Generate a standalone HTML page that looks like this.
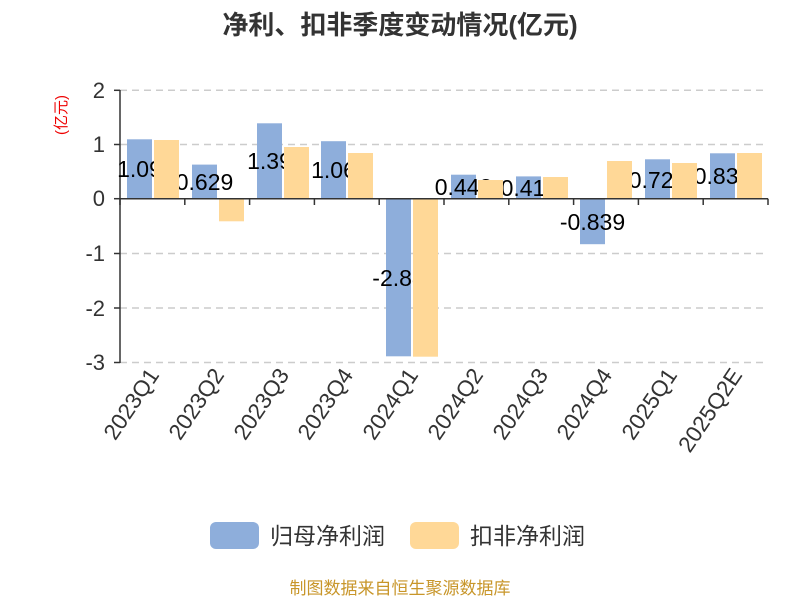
<!DOCTYPE html>
<html><head><meta charset="utf-8"><style>
body{margin:0;background:#fff;}
svg{display:block;font-family:"Liberation Sans","Noto Sans CJK SC",sans-serif;}
</style></head><body>
<svg width="800" height="600" viewBox="0 0 800 600">
<text x="400" y="34" text-anchor="middle" font-size="26" font-weight="bold" fill="#333">净利、扣非季度变动情况(亿元)</text>
<text transform="translate(66,115) rotate(-90)" text-anchor="middle" font-size="15" fill="#e00">(亿元)</text>
<g stroke="#ccc" stroke-width="1.5" stroke-dasharray="7,5">
<line x1="120" y1="90.3" x2="768" y2="90.3"/>
<line x1="120" y1="144.5" x2="768" y2="144.5"/>
<line x1="120" y1="253.5" x2="768" y2="253.5"/>
<line x1="120" y1="308" x2="768" y2="308"/>
<line x1="120" y1="362.5" x2="768" y2="362.5"/>
</g>
<g font-size="22" fill="#333" text-anchor="end">
<text x="105" y="98">2</text><text x="105" y="152">1</text><text x="105" y="206">0</text>
<text x="105" y="261">-1</text><text x="105" y="316">-2</text><text x="105" y="370">-3</text>
</g>
<g stroke="#333" stroke-width="1.5">
<line x1="120" y1="90" x2="120" y2="363"/>
<line x1="114" y1="90.3" x2="120" y2="90.3"/><line x1="114" y1="144.5" x2="120" y2="144.5"/>
<line x1="114" y1="198.7" x2="120" y2="198.7"/><line x1="114" y1="253.5" x2="120" y2="253.5"/>
<line x1="114" y1="308" x2="120" y2="308"/><line x1="114" y1="362.5" x2="120" y2="362.5"/>
</g>
<g fill="#8eaedb">
<rect x="127" y="139.3" width="25" height="59.4"/>
<rect x="192" y="164.6" width="25" height="34.1"/>
<rect x="257" y="123.3" width="25" height="75.4"/>
<rect x="321" y="141.2" width="25" height="57.5"/>
<rect x="386" y="198.7" width="25" height="157.6"/>
<rect x="451" y="174.7" width="25" height="24"/>
<rect x="516" y="176.4" width="25" height="22.3"/>
<rect x="580" y="198.7" width="25" height="45.5"/>
<rect x="645" y="159.3" width="25" height="39.4"/>
<rect x="710" y="153.3" width="25" height="45.4"/>
</g>
<g font-size="23" fill="#000" text-anchor="middle">
<text x="139.5" y="177">1.09</text>
<text x="204.5" y="190">0.629</text>
<text x="269.5" y="169">1.39</text>
<text x="333.5" y="178">1.06</text>
<text x="398.5" y="286">-2.88</text>
<text x="463.5" y="195">0.443</text>
<text x="528.5" y="196">0.411</text>
<text x="592.5" y="230">-0.839</text>
<text x="657.5" y="188">0.727</text>
<text x="722.5" y="184">0.838</text>
</g>
<g fill="#ffd897">
<rect x="154" y="140" width="25" height="58.7"/>
<rect x="219" y="198.7" width="25" height="22.6"/>
<rect x="284" y="147" width="25" height="51.7"/>
<rect x="348" y="153" width="25" height="45.7"/>
<rect x="413" y="198.7" width="25" height="158"/>
<rect x="478" y="180" width="25" height="18.7"/>
<rect x="543" y="177" width="25" height="21.7"/>
<rect x="607" y="161" width="25" height="37.7"/>
<rect x="672" y="163" width="25" height="35.7"/>
<rect x="737" y="153" width="25" height="45.7"/>
</g>
<g stroke="#333" stroke-width="1.5">
<line x1="120" y1="198.7" x2="768" y2="198.7"/>
<line x1="120" y1="198.7" x2="120" y2="205"/><line x1="184.8" y1="198.7" x2="184.8" y2="205"/>
<line x1="249.6" y1="198.7" x2="249.6" y2="205"/><line x1="314.4" y1="198.7" x2="314.4" y2="205"/>
<line x1="379.2" y1="198.7" x2="379.2" y2="205"/><line x1="444" y1="198.7" x2="444" y2="205"/>
<line x1="508.8" y1="198.7" x2="508.8" y2="205"/><line x1="573.6" y1="198.7" x2="573.6" y2="205"/>
<line x1="638.4" y1="198.7" x2="638.4" y2="205"/><line x1="703.2" y1="198.7" x2="703.2" y2="205"/>
<line x1="768" y1="198.7" x2="768" y2="205"/>
</g>
<g font-size="22.5" fill="#333" text-anchor="end">
<text transform="translate(160,375) rotate(-56)">2023Q1</text>
<text transform="translate(225,375) rotate(-56)">2023Q2</text>
<text transform="translate(290,375) rotate(-56)">2023Q3</text>
<text transform="translate(354,375) rotate(-56)">2023Q4</text>
<text transform="translate(419,375) rotate(-56)">2024Q1</text>
<text transform="translate(484,375) rotate(-56)">2024Q2</text>
<text transform="translate(549,375) rotate(-56)">2024Q3</text>
<text transform="translate(613,375) rotate(-56)">2024Q4</text>
<text transform="translate(678,375) rotate(-56)">2025Q1</text>
<text transform="translate(743,375) rotate(-56)">2025Q2E</text>
</g>
<rect x="210" y="522" width="49" height="27" rx="6" fill="#8eaedb"/>
<text x="270" y="544" font-size="23" fill="#333">归母净利润</text>
<rect x="410" y="522" width="49" height="27" rx="6" fill="#ffd897"/>
<text x="470" y="544" font-size="23" fill="#333">扣非净利润</text>
<text x="400" y="594" text-anchor="middle" font-size="17" fill="#c8962a">制图数据来自恒生聚源数据库</text>
</svg>
</body></html>
